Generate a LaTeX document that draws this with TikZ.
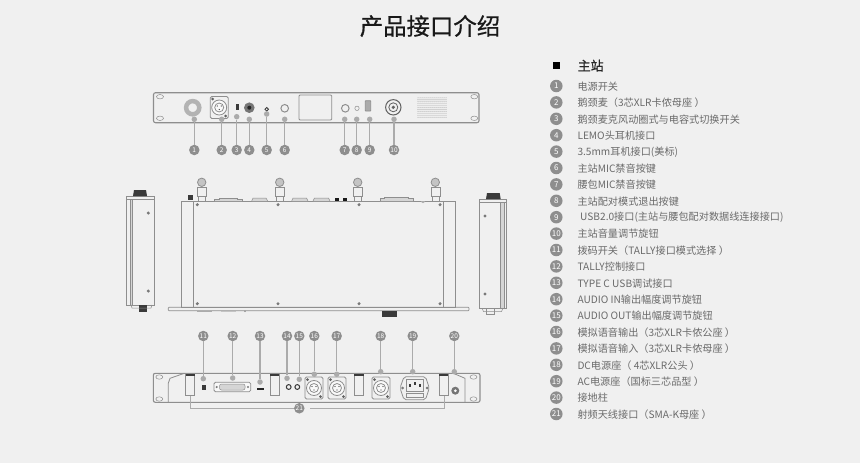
\documentclass[tikz,border=0pt]{standalone}
\usepackage{fontspec}
\newfontfamily\cjk{Noto Sans CJK SC}
\newfontfamily\cjkgras[FakeBold=.6]{Noto Sans CJK SC}
\definecolor{fond}{HTML}{F0F0F0}
\definecolor{trait}{HTML}{8E8E8E}
\definecolor{repere}{HTML}{ABABAB}
\definecolor{pastille}{HTML}{8E8E8E}
\definecolor{texte}{HTML}{6A6A6A}
\definecolor{sombre}{HTML}{3A3A3A}

% prise XLR : centre x, centre y
\newcommand{\prisexlr}[2]{
\draw[tole,rounded corners=1.5pt] (#1-9,#2-11) rectangle (#1+9,#2+11);
\draw[tole,fill=white!60!fond] (#1,#2) circle (7.5);
\draw[tole] (#1,#2) circle (4.5);
\fill[sombre!80] (#1-6.5,#2-8.5) circle (1.5);
\fill[sombre!80] (#1+6.5,#2+8.5) circle (1.5);
\fill[sombre] (#1-2,#2-1.5) circle (.7);
\fill[sombre] (#1+2,#2-1.5) circle (.7);
\fill[sombre] (#1,#2+2) circle (.7);
}

\begin{document}
\begin{tikzpicture}[x=1pt,y=-1pt]

% définition des styles
\tikzstyle{tole}=[draw=trait,line width=.8pt]
\tikzstyle{fin}=[draw=trait,line width=.5pt]
\tikzstyle{vis}=[fill=trait!85!black]
\tikzstyle{arc}=[draw=repere,line width=1.2pt]
\tikzstyle{borne}=[circle,fill=repere,inner sep=0pt,minimum size=5.5pt]
\tikzstyle{num}=[circle,fill=pastille,text=white,inner sep=0pt,minimum size=10.5pt,font=\cjk\fontsize{6.5}{6.5}\selectfont]
\tikzstyle{puce}=[circle,fill=pastille,text=white,inner sep=0pt,minimum size=12.5pt,font=\cjk\fontsize{8}{8}\selectfont]
\tikzstyle{ligne}=[anchor=west,inner sep=0pt,text=texte,font=\cjk\fontsize{10.15}{10.15}\selectfont]

\fill[fond] (0,0) rectangle (860,463);

% titre et liste
\node[inner sep=0pt,text=black!90,font=\cjkgras\fontsize{23.4}{23.4}\selectfont] (titre) at (430,26) {产品接口介绍};
\node[fill=black,inner sep=0pt,minimum size=7.5pt] (carre) at (556.7,65.7) {};
\node[ligne,text=black!85,font=\cjkgras\fontsize{13}{13}\selectfont] (station) at (577.5,65.7) {主站};

\node[puce] (p1) at (556.3,86) {1};
\node[puce] (p2) at (556.3,102.4) {2};
\node[puce] (p3) at (556.3,118.8) {3};
\node[puce] (p4) at (556.3,135.2) {4};
\node[puce] (p5) at (556.3,151.6) {5};
\node[puce] (p6) at (556.3,168) {6};
\node[puce] (p7) at (556.3,184.4) {7};
\node[puce] (p8) at (556.3,200.8) {8};
\node[puce] (p9) at (556.3,217.2) {9};
\node[puce] (p10) at (556.3,233.6) {10};
\node[puce] (p11) at (556.3,250) {11};
\node[puce] (p12) at (556.3,266.4) {12};
\node[puce] (p13) at (556.3,282.8) {13};
\node[puce] (p14) at (556.3,299.2) {14};
\node[puce] (p15) at (556.3,315.6) {15};
\node[puce] (p16) at (556.3,332) {16};
\node[puce] (p17) at (556.3,348.4) {17};
\node[puce] (p18) at (556.3,364.8) {18};
\node[puce] (p19) at (556.3,381.2) {19};
\node[puce] (p20) at (556.3,397.6) {20};
\node[puce] (p21) at (556.3,414) {21};

\node[ligne] (t1) at (577.3,86.4) {电源开关};
\node[ligne] (t2) at (577.3,102.8) {鹅颈麦（3芯XLR卡侬母座 ）};
\node[ligne] (t3) at (577.3,119.2) {鹅颈麦克风动圈式与电容式切换开关};
\node[ligne] (t4) at (577.3,135.6) {LEMO头耳机接口};
\node[ligne] (t5) at (577.3,152) {3.5mm耳机接口(美标)};
\node[ligne] (t6) at (577.3,168.4) {主站MIC禁音按键};
\node[ligne] (t7) at (577.3,184.8) {腰包MIC禁音按键};
\node[ligne] (t8) at (577.3,201.2) {主站配对模式退出按键};
\node[ligne] (t9) at (580,217.6) {USB2.0接口(主站与腰包配对数据线连接接口)};
\node[ligne] (t10) at (577.3,234) {主站音量调节旋钮};
\node[ligne] (t11) at (577.3,250.4) {拨码开关（TALLY接口模式选择 ）};
\node[ligne] (t12) at (577.3,266.8) {TALLY控制接口};
\node[ligne] (t13) at (577.3,283.2) {TYPE C USB调试接口};
\node[ligne] (t14) at (577.3,299.6) {AUDIO IN输出幅度调节旋钮};
\node[ligne] (t15) at (577.3,316) {AUDIO OUT输出幅度调节旋钮};
\node[ligne] (t16) at (577.3,332.4) {模拟语音输出（3芯XLR卡侬公座 ）};
\node[ligne] (t17) at (577.3,348.8) {模拟语音输入（3芯XLR卡侬母座 ）};
\node[ligne] (t18) at (577.3,365.2) {DC电源座（ 4芯XLR公头 ）};
\node[ligne] (t19) at (577.3,381.6) {AC电源座（国标三芯品型 ）};
\node[ligne] (t20) at (577.3,398) {接地柱};
\node[ligne] (t21) at (577.3,414.4) {射频天线接口（SMA-K母座 ）};

% face avant
\draw[tole,line width=1.1pt,rounded corners=2pt] (153.5,92.7) rectangle (479,122.7);
\draw[fin] (160,96.7) ellipse (3.5 and 2.2);
\draw[fin] (160,118.3) ellipse (3.5 and 2.2);
\draw[fin] (474.3,96.7) ellipse (3.5 and 2.2);
\draw[fin] (474.3,118.3) ellipse (3.5 and 2.2);
\draw[draw=repere!90,line width=4.5pt] (192.7,107.7) circle (6.6);
\prisexlr{219.2}{107.5}
\fill[sombre] (235.5,104) rectangle (238.5,109.5);
\fill[sombre!70] (249.3,107.7) circle (5.3);
\fill[black!85] (249.3,107.7) circle (2);
\draw[tole,draw=sombre] (266.7,109.3) circle (1.8);
\draw[tole,line width=1pt] (284.7,108.3) circle (3.8);
\draw[tole,rounded corners=1pt] (299,95) rectangle (331.7,120);
\draw[tole,line width=1pt] (345.3,108.3) circle (3.8);
\draw[fin] (357,108.3) circle (2.2);
\draw[tole,rounded corners=.5pt,fill=repere] (365.3,100.7) rectangle (370.7,111);
\draw[tole,line width=1pt,draw=sombre!80] (393.3,107.3) circle (7.7);
\draw[tole,draw=sombre!80] (393.3,107.3) circle (4.5);
\fill[sombre!80] (393.3,107.3) circle (1.8);
\foreach \x in {0,...,14}
  \foreach \y in {0,...,10}
    \fill[trait!70] (418+\x*2,97.8+\y*1.95) circle (.55);

% vue de gauche
\draw[tole] (126.7,196) rectangle (154.7,305);
\fill[repere!50] (130,199) rectangle (132.7,305);
\draw[fin] (126.7,199) -- (154.7,199);
\draw[fin] (130,199) -- (130,305);
\draw[fin] (132.7,199) -- (132.7,305);
\fill[sombre] (133,196) -- (134,190) -- (146,190) -- (147,196) -- cycle;
\fill[sombre] (139,305) rectangle (147,311.5);
\draw[fin] (131,305) -- (132,308) -- (151,308) -- (152,305);
\fill[vis] (148.3,213) circle (1.7);
\fill[vis] (148.3,291) circle (1.7);

% vue de dessus
\draw[tole] (181.7,201) rectangle (455.7,307.3);
\draw[tole] (193.3,201) -- (193.3,307.3);
\draw[tole] (443.3,201) -- (443.3,307.3);
\draw[tole,rounded corners=.8pt] (168.3,307.3) rectangle (469,310.7);
\fill[sombre] (187.7,194.5) rectangle (193.3,200);
\fill[sombre] (382,310.7) rectangle (396.7,316.5);
\fill[vis] (197.3,204.7) circle (1.7);
\fill[vis] (278,204.7) circle (1.7);
\fill[vis] (359,204.7) circle (1.7);
\fill[vis] (440,204.7) circle (1.7);
\fill[vis] (197.3,303.7) circle (1.7);
\fill[vis] (278,303.7) circle (1.7);
\fill[vis] (359,303.7) circle (1.7);
\fill[vis] (440,303.7) circle (1.7);
\foreach \x in {201.7,279.7,357.7,435.3} {
  \draw[tole,fill=repere!70] (\x,182.3) circle (4.2);
  \draw[fin] (\x-4.5,187) rectangle (\x+4.5,196);
  \draw[fin] (\x-3.5,196) rectangle (\x+3.5,201);
}
\draw[fin,fill=repere!50] (214.3,201) -- (214.3,199.5) -- (219,199.5) -- (219,198) -- (237.5,198) -- (237.5,199.5) -- (242.3,199.5) -- (242.3,201);
\draw[fin,fill=repere!50] (251.7,201) -- (253,198) -- (266,198) -- (267.7,201);
\draw[fin,fill=repere!50] (291.7,201) -- (293,198) -- (306.5,198) -- (308,201);
\draw[fin,fill=repere!50] (313,201) -- (314.5,198) -- (328.5,198) -- (330,201);
\fill[black!90] (334.7,197.7) rectangle (338.7,201);
\fill[black!90] (342.7,197.7) rectangle (346.7,201);
\draw[fin,fill=repere!50] (380,201) -- (380,198.5) -- (384.5,198.5) -- (384.5,197.5) -- (408,197.5) -- (408,198.5) -- (413.3,198.5) -- (413.3,201);
\fill[repere] (421,201) arc (180:0:2);
\fill[repere] (196.7,310.7) rectangle (211.7,312);
\fill[repere!70] (221,310.7) rectangle (236,312.3);
\fill[trait] (245,311.2) circle (.8);

% vue de droite
\draw[tole] (479,199) rectangle (506.7,308.3);
\fill[repere!50] (500.7,202.3) rectangle (504,308.3);
\draw[fin] (479,202.3) -- (506.7,202.3);
\draw[fin] (500.7,202.3) -- (500.7,308.3);
\draw[fin] (504,202.3) -- (504,308.3);
\fill[sombre] (486,199) -- (487,193) -- (499.7,193) -- (500.7,199) -- cycle;
\draw[fin] (482,308.3) -- (483.5,311.5) -- (501.5,311.5) -- (503,308.3);
\draw[fin] (486.7,308.3) rectangle (494,314);
\fill[vis] (485,216) circle (1.7);
\fill[vis] (485,294) circle (1.7);

% face arrière
\draw[tole,line width=1.1pt,rounded corners=2pt] (153.3,373.3) rectangle (480,402.3);
\draw[fin] (159.3,377) ellipse (3.5 and 2.2);
\draw[fin] (159.3,399) ellipse (3.5 and 2.2);
\draw[fin] (473.5,377) ellipse (3.5 and 2.2);
\draw[fin] (473.5,399) ellipse (3.5 and 2.2);
\draw[tole] (184.3,373.3) -- (170,378.3) -- (168.3,383.3) -- (168.3,402.3);
\draw[tole] (453.3,373.3) -- (465,378.3) -- (465,402.3);
\draw[fin] (185.7,374) rectangle (194.7,395.7);
\draw[fin] (270,374) rectangle (279.3,395.7);
\draw[fin] (354.3,374) rectangle (363.7,395.7);
\draw[fin] (439,374) rectangle (448,395.7);
\fill[sombre] (185.7,374) rectangle (194.7,375.8);
\fill[sombre] (270,374) rectangle (279.3,375.8);
\fill[sombre] (354.3,374) rectangle (363.7,375.8);
\fill[sombre] (439,374) rectangle (448,375.8);
\fill[sombre] (202,384.7) rectangle (205.5,389.5);
\draw[tole,rounded corners=1.5pt,fill=white!50!fond] (214,382.3) rectangle (250.7,391.7);
\draw[fin,rounded corners=2pt,fill=repere!50] (219.5,384) rectangle (245,390);
\fill[vis] (216.7,387) circle (1.2);
\fill[vis] (248,387) circle (1.2);
\fill[black!85] (256.7,388.2) rectangle (264,390.4);
\draw[tole,draw=sombre,line width=1pt] (288.7,387) circle (2.4);
\draw[tole,draw=sombre,line width=1pt] (297.3,387) circle (2.4);
\prisexlr{314}{388}
\prisexlr{337}{388}
\prisexlr{381}{388}
\draw[tole,rounded corners=2pt] (400,388) -- (404,376.7) -- (425.5,376.7) -- (429.3,388) -- (425.5,399.7) -- (404,399.7) -- cycle;
\draw[tole] (406.5,379) rectangle (423,391);
\draw[fin] (406.5,393) rectangle (423,397.5);
\fill[vis] (402.5,388) circle (1.5);
\fill[vis] (427,388) circle (1.5);
\fill[sombre] (408.5,384) rectangle (410.5,387);
\fill[sombre] (413.7,381.5) rectangle (415.7,384.5);
\fill[sombre] (419,384) rectangle (421,387);
\fill[sombre!70] (455.3,390.7) circle (4);
\fill[white!70!fond] (455.3,390.7) circle (1.5);

% les repères de la face avant
\node[borne] (a1) at (194.3,119.3) {};
\node[borne] (a2) at (221.7,119.3) {};
\node[borne] (a3) at (236.7,116.7) {};
\node[borne] (a4) at (249.3,119.3) {};
\node[borne] (a5) at (266.7,114) {};
\node[borne] (a6) at (284.7,119.3) {};
\node[borne] (a7) at (344.7,119.3) {};
\node[borne] (a8) at (356.7,119.3) {};
\node[borne] (a9) at (369.7,119.3) {};
\node[borne] (a10) at (394,119.3) {};
\node[num] (n1) at (194.3,150) {1};
\node[num] (n2) at (221.7,150) {2};
\node[num] (n3) at (236.7,150) {3};
\node[num] (n4) at (249.3,150) {4};
\node[num] (n5) at (266.7,150) {5};
\node[num] (n6) at (284.7,150) {6};
\node[num] (n7) at (344.7,150) {7};
\node[num] (n8) at (356.7,150) {8};
\node[num] (n9) at (369.7,150) {9};
\node[num] (n10) at (394,150) {10};
\draw[arc] (a1) -- (n1);
\draw[arc] (a2) -- (n2);
\draw[arc] (a3) -- (n3);
\draw[arc] (a4) -- (n4);
\draw[arc] (a5) -- (n5);
\draw[arc] (a6) -- (n6);
\draw[arc] (a7) -- (n7);
\draw[arc] (a8) -- (n8);
\draw[arc] (a9) -- (n9);
\draw[arc] (a10) -- (n10);

% les repères de la face arrière
\node[borne] (a11) at (203.3,378.7) {};
\node[borne] (a12) at (232.7,378) {};
\node[borne] (a13) at (260,382) {};
\node[borne] (a14) at (287,378.3) {};
\node[borne] (a15) at (299.3,379.3) {};
\node[borne] (a16) at (314.3,374.3) {};
\node[borne] (a17) at (336.7,374.3) {};
\node[borne] (a18) at (380.7,371.7) {};
\node[borne] (a19) at (412.7,371.7) {};
\node[borne] (a20) at (454.3,371.7) {};
\node[num] (n11) at (203.3,336) {11};
\node[num] (n12) at (232.7,336) {12};
\node[num] (n13) at (260,336) {13};
\node[num] (n14) at (287,336) {14};
\node[num] (n15) at (299.3,336) {15};
\node[num] (n16) at (314.3,336) {16};
\node[num] (n17) at (336.7,336) {17};
\node[num] (n18) at (380.7,336) {18};
\node[num] (n19) at (412.7,336) {19};
\node[num] (n20) at (454.3,336) {20};
\draw[arc] (a11) -- (n11);
\draw[arc] (a12) -- (n12);
\draw[arc] (a13) -- (n13);
\draw[arc] (a14) -- (n14);
\draw[arc] (a15) -- (n15);
\draw[arc] (a16) -- (n16);
\draw[arc] (a17) -- (n17);
\draw[arc] (a18) -- (n18);
\draw[arc] (a19) -- (n19);
\draw[arc] (a20) -- (n20);

% le repère 21
\node[num] (n21) at (299.3,408.3) {21};
\coordinate (g21) at (190,396);
\coordinate (d21) at (444,396);
\draw[arc,line width=.9pt] (g21) |- (n21);
\draw[arc,line width=.9pt] (d21) |- ([xshift=5.5pt]n21.east);

\end{tikzpicture}
\end{document}
